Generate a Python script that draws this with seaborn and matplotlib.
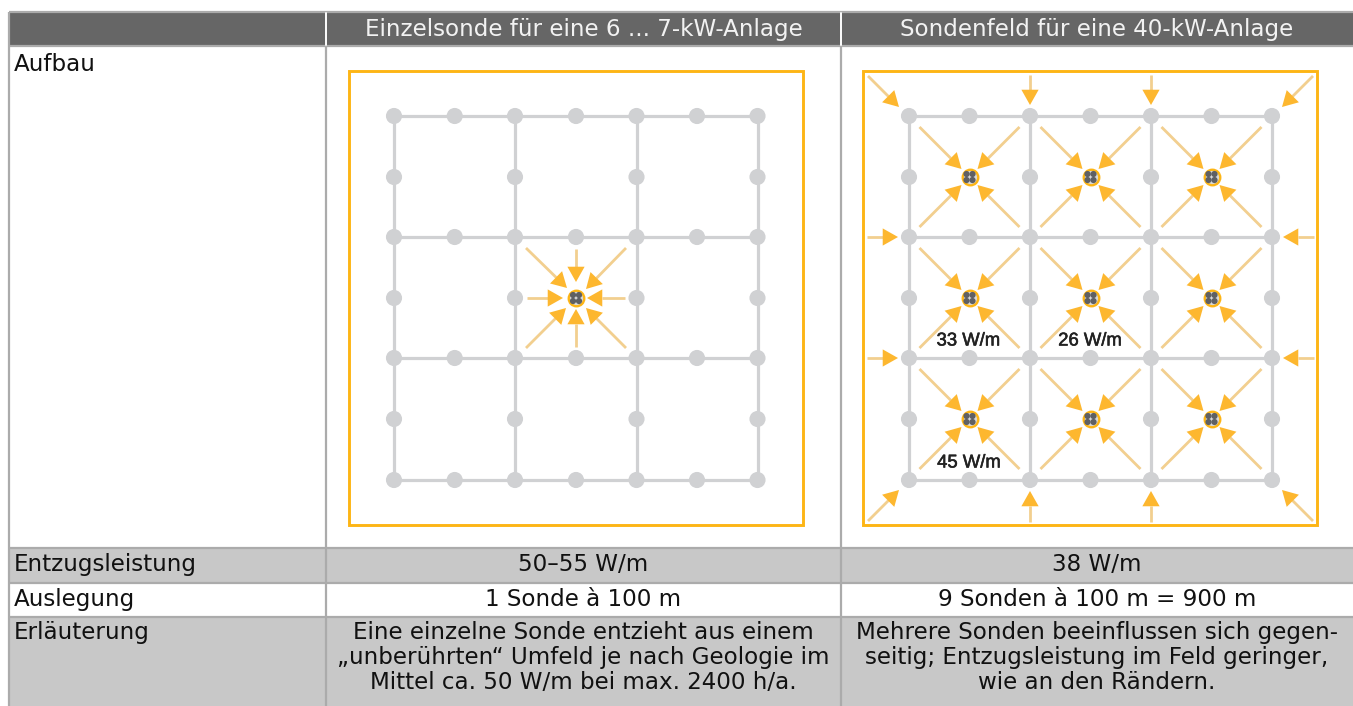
import matplotlib
matplotlib.use("Agg")
import matplotlib.pyplot as plt
import matplotlib.patheffects as pe
import numpy as np
import pandas as pd
import seaborn as sns
from matplotlib.patches import Rectangle

sns.set_theme(style="white")
plt.rcParams["font.family"] = ["DejaVu Sans"]

W, H = 1353, 706
FONT = 16.6

# table content
header_labels = ["", "Einzelsonde für eine 6 ... 7-kW-Anlage", "Sondenfeld für eine 40-kW-Anlage"]
row_names = ["Aufbau", "Entzugsleistung", "Auslegung", "Erläuterung"]
col1_texts = ["", "50–55 W/m", "1 Sonde à 100 m",
              "Eine einzelne Sonde entzieht aus einem\n„unberührten“ Umfeld je nach Geologie im\nMittel ca. 50 W/m bei max. 2400 h/a."]
col2_texts = ["", "38 W/m", "9 Sonden à 100 m = 900 m",
              "Mehrere Sonden beeinflussen sich gegen-\nseitig; Entzugsleistung im Feld geringer,\nwie an den Rändern."]
col_edges = [9, 326, 841, 1353]
row_edges = [12, 46, 548, 583, 617, 706]
row_fills = ["#666666", "#FFFFFF", "#C8C8C8", "#FFFFFF", "#C8C8C8"]
row_text_offset = [7, 5, 5, 4]

# diagrams
grid_x_left = [394, 454.7, 515, 576, 636.5, 697, 757.5]
grid_x_right = [909, 969.5, 1030, 1090.5, 1151, 1211.5, 1272]
grid_y = [116, 177, 237, 298, 358, 419, 480]
frame_left = (349, 71, 454, 454)
frame_right = (863, 71, 454, 454)
probe_index_left = [(3, 3)]
probe_index_right = [(i, j) for j in (1, 3, 5) for i in (1, 3, 5)]
field_labels = ["33 W/m", "26 W/m", "45 W/m"]
field_label_x = [968.5, 1090, 969]
field_label_y = [341, 341, 463]

# arrows: (start offset, tip offset) around a probe
single_arrows = [((-50, -50), (-9, -10)), ((50, -50), (10, -9)), ((-50, 50), (-10, 10)), ((50, 50), (10, 10)),
                 ((0, -49), (0, -16)), ((0, 49), (0, 11)), ((-49, 0), (-13, 0)), ((49, 0), (11, 0))]
field_arrows = [((-50, -50), (-8, -8)), ((50, -50), (8, -8)), ((-50, 50), (-8, 8)), ((50, 50), (8, 8))]
outer_arrows = [((868, 76), (899, 107)), ((1313, 76), (1282, 107)), ((868, 521), (899, 490)), ((1313, 521), (1282, 490)),
                ((1030, 75), (1030, 105)), ((1151, 75), (1151, 105)), ((1030, 522), (1030, 491)), ((1151, 522), (1151, 491)),
                ((867, 237), (898, 237)), ((867, 358), (898, 358)), ((1314, 237), (1283, 237)), ((1314, 358), (1283, 358))]

GRID = "#D0D1D3"
ORANGE = "#FDB72F"
FRAME = "#FDB515"
SHAFT = "#F2CF8F"

fig = plt.figure(figsize=(W / 100, H / 100), dpi=100)
ax = fig.add_axes([0, 0, 1, 1])
ax.set_xlim(0, W)
ax.set_ylim(H, 0)
ax.axis("off")

# table
for r, fill in enumerate(row_fills):
    ax.add_patch(Rectangle((col_edges[0], row_edges[r]), W - col_edges[0], row_edges[r + 1] - row_edges[r],
                           fc=fill, ec="none", zorder=0))
BORDER = dict(color="#ABABAB", lw=1.6, zorder=1, solid_capstyle="butt")
for y in row_edges[:-1]:
    ax.plot([col_edges[0], W], [y, y], **BORDER)
ax.plot([col_edges[0]] * 2, [row_edges[0], H], **BORDER)
for x in col_edges[1:3]:
    ax.plot([x, x], [row_edges[1], H], **BORDER)
    ax.plot([x, x], [row_edges[0] + 1, row_edges[1] - 1], color="white", lw=1.4, zorder=2)

text_kw = dict(fontsize=FONT, linespacing=1.11, zorder=5)
for c, label in enumerate(header_labels):
    ax.text((col_edges[c] + col_edges[c + 1]) / 2, 29.5, label, color="#F2F2F2",
            ha="center", va="center", **text_kw)
for r, name in enumerate(row_names):
    top = row_edges[r + 1] + row_text_offset[r]
    ax.text(14, top, name, color="#111111", ha="left", va="top", **text_kw)
    for c, texts in enumerate((col1_texts, col2_texts)):
        ax.text((col_edges[c + 1] + col_edges[c + 2]) / 2, top, texts[r], color="#111111",
                ha="center", va="top", multialignment="center", **text_kw)


def draw_panel(xs, ys, frame, probes):
    segs = []
    sid = 0
    for i in (0, 2, 4, 6):
        segs += [(xs[i], ys[0], sid), (xs[i], ys[6], sid)]
        sid += 1
        segs += [(xs[0], ys[i], sid), (xs[6], ys[i], sid)]
        sid += 1
    seg_df = pd.DataFrame(segs, columns=["x", "y", "seg"])
    sns.lineplot(data=seg_df, x="x", y="y", units="seg", estimator=None, sort=False,
                 color=GRID, lw=2.3, ax=ax, zorder=2, legend=False)
    nodes = pd.DataFrame([(xs[i], ys[j]) for j in range(7) for i in range(7) if i % 2 == 0 or j % 2 == 0],
                         columns=["x", "y"])
    sns.scatterplot(data=nodes, x="x", y="y", s=135, color=GRID, edgecolor="none", ax=ax, zorder=3, legend=False)
    ax.add_patch(Rectangle(frame[:2], frame[2], frame[3], fc="none", ec=FRAME, lw=2.1, zorder=3))
    pr = pd.DataFrame([(xs[i], ys[j]) for i, j in probes], columns=["x", "y"])
    sns.scatterplot(data=pr, x="x", y="y", s=125, color="#D8D8D8", edgecolor=FRAME, linewidth=1.7,
                    ax=ax, zorder=6, legend=False)
    dots = pd.DataFrame([(x + dx, y + dy) for x, y in pr.values for dx in (-3, 3) for dy in (-3, 3)],
                        columns=["x", "y"])
    sns.scatterplot(data=dots, x="x", y="y", s=20, color="#5F6063", edgecolor="none", ax=ax, zorder=7, legend=False)
    return pr


def arrow(start, tip):
    start, tip = np.array(start, float), np.array(tip, float)
    u = (tip - start) / np.linalg.norm(tip - start)
    base = tip - u * 15
    ax.plot([start[0], base[0]], [start[1], base[1]], color=SHAFT, lw=2.0, zorder=4, solid_capstyle="butt")
    ax.annotate("", xy=tip, xytext=base,
                arrowprops=dict(arrowstyle="-|>,head_length=11,head_width=6.2", mutation_scale=1,
                                color=ORANGE, lw=0, shrinkA=0, shrinkB=0), zorder=5)


pl = draw_panel(grid_x_left, grid_y, frame_left, probe_index_left)
pr = draw_panel(grid_x_right, grid_y, frame_right, probe_index_right)
for x, y in pl.values:
    for s, t in single_arrows:
        arrow((x + s[0], y + s[1]), (x + t[0], y + t[1]))
for x, y in pr.values:
    for s, t in field_arrows:
        arrow((x + s[0], y + s[1]), (x + t[0], y + t[1]))
for s, t in outer_arrows:
    arrow(s, t)
for x, y, t in zip(field_label_x, field_label_y, field_labels):
    ax.text(x, y, t, family="Liberation Sans", fontsize=13.3, color="#222222", ha="center", va="center", zorder=8,
            path_effects=[pe.withStroke(linewidth=0.4, foreground="#222222")])

ax.set_xlabel("")
ax.set_ylabel("")
fig.savefig("out.png", dpi=100)
